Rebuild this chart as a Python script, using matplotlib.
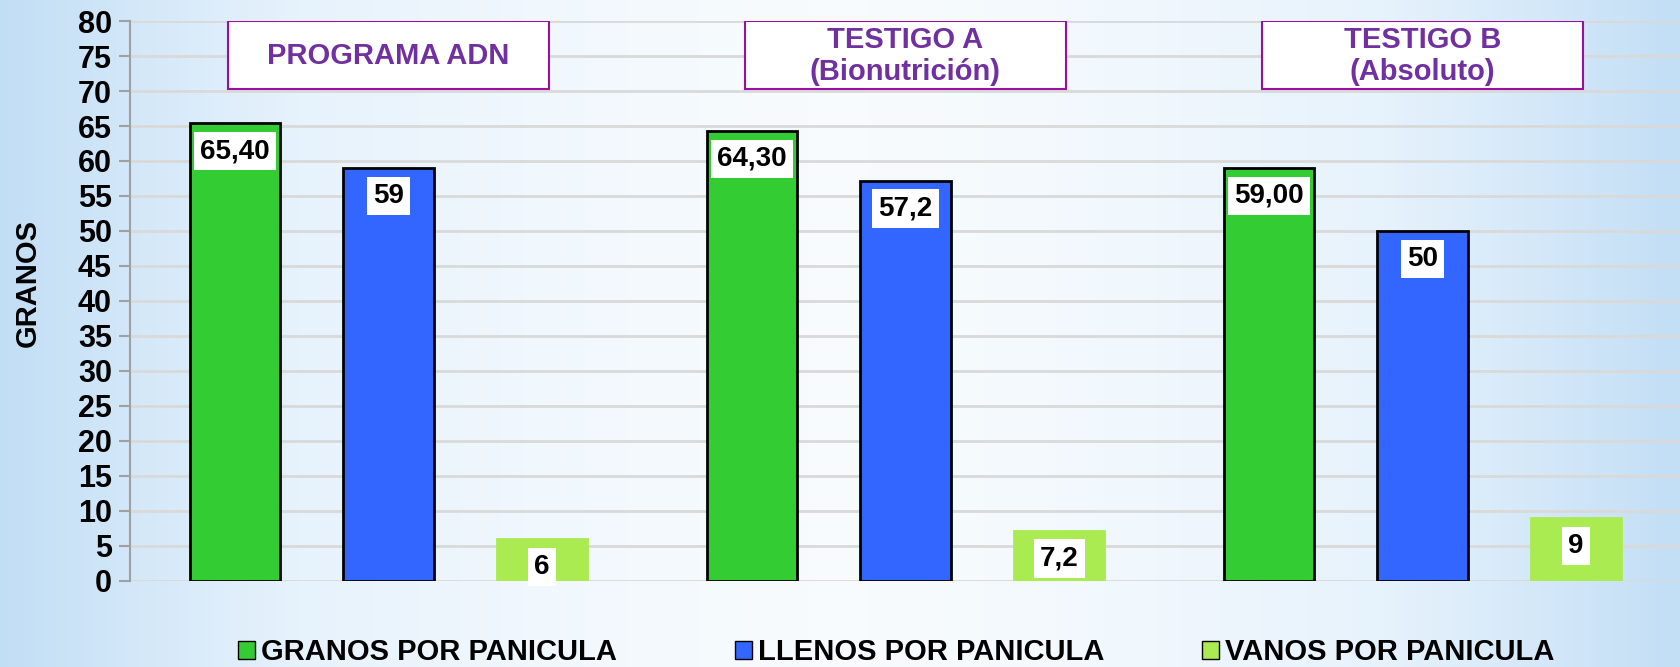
import numpy as np
import matplotlib
matplotlib.use("Agg")
import matplotlib.pyplot as plt
from matplotlib.colors import LinearSegmentedColormap
from matplotlib.patches import Rectangle

plt.rcParams["font.family"] = ["Liberation Sans", "DejaVu Sans"]
plt.rcParams["font.weight"] = "bold"

groups = ["PROGRAMA ADN", "TESTIGO A\n(Bionutrición)", "TESTIGO B\n(Absoluto)"]
series_names = ["GRANOS POR PANICULA", "LLENOS POR PANICULA", "VANOS POR PANICULA"]
granos = [65.4, 64.3, 59.0]
llenos = [59, 57.2, 50]
vanos = [6, 7.2, 9]
granos_labels = ["65,40", "64,30", "59,00"]
llenos_labels = ["59", "57,2", "50"]
vanos_labels = ["6", "7,2", "9"]
yticks = list(range(0, 81, 5))

colors = ["#33CC33", "#3366FF", "#A9EB50"]
edges = ["black", "black", "#A9EB50"]

fig = plt.figure(figsize=(16.81, 6.67), dpi=100)

# background gradient
bg = fig.add_axes([0, 0, 1, 1], zorder=-10)
xx = np.linspace(0, 1, 400)
yy = np.linspace(0, 1, 160)
X, Y = np.meshgrid(xx, yy)
z = np.clip(np.abs(X - 0.5) * 2, 0, 1) ** 1.6
cmap_bg = LinearSegmentedColormap.from_list("bg", ["#F7FBFE", "#E6F2FC", "#C2DEF5"])
bg.imshow(z, cmap=cmap_bg, aspect="auto", extent=[0, 1, 0, 1], vmin=0, vmax=1)
bg.axis("off")

ax = fig.add_axes([0.0773, 0.129, 0.9227, 0.8395])
ax.set_facecolor("none")

x = np.arange(len(groups))
w = 0.175
off = 0.297
all_vals = [granos, llenos, vanos]
all_labels = [granos_labels, llenos_labels, vanos_labels]
for i in range(3):
    xs = x + (i - 1) * off
    ax.bar(xs, all_vals[i], width=w, color=colors[i], edgecolor=edges[i],
           linewidth=2, zorder=3, label=series_names[i])
    for xi, v, lab in zip(xs, all_vals[i], all_labels[i]):
        ax.annotate(lab, (xi, v), xytext=(0, -28), textcoords="offset pixels",
                    ha="center", va="center", fontsize=20, fontweight="bold",
                    zorder=5,
                    bbox=dict(boxstyle="square,pad=0.22", fc="white", ec="none"))

# group title boxes
for xi, name in zip(x, groups):
    ax.add_patch(Rectangle((xi - 0.31, 70.3), 0.62, 9.7, facecolor="white",
                           edgecolor="#9B0F9E", linewidth=1.5, zorder=4))
    ax.text(xi, 75.0, name, ha="center", va="center", color="#7030A0",
            fontsize=21, fontweight="bold", zorder=5, linespacing=1.2)

ax.set_xlim(-0.5, 2.5)
ax.set_ylim(0, 80)
ax.set_yticks(yticks)
ax.set_yticklabels([str(t) for t in yticks], fontsize=22, fontweight="bold")
ax.set_xticks([])
ax.yaxis.grid(True, color="#D9D9D9", linewidth=2, zorder=0)
ax.set_axisbelow(True)
for s in ["top", "right", "bottom"]:
    ax.spines[s].set_visible(False)
ax.spines["left"].set_color("#A0A0A0")
ax.spines["left"].set_linewidth(1.5)
ax.tick_params(axis="y", length=8, width=1.5, color="#A0A0A0", pad=5)
ax.set_ylabel("GRANOS", fontsize=21, fontweight="bold")
ax.yaxis.set_label_coords(-0.057, 0.532)

# legend entries placed one by one (uneven gaps like the original)
legend_x = [0.1415, 0.4372, 0.7150]
for c, name, lx in zip(colors, series_names, legend_x):
    h = Rectangle((0, 0), 1, 1, facecolor=c, edgecolor="black", linewidth=1)
    leg = fig.legend([h], [name], loc="center left", bbox_to_anchor=(lx, 0.022),
                     frameon=False, handlelength=0.6, handleheight=0.6,
                     handletextpad=0.2, borderpad=0, borderaxespad=0,
                     prop={"weight": "bold", "size": 21})

fig.savefig("out.png", dpi=100)
